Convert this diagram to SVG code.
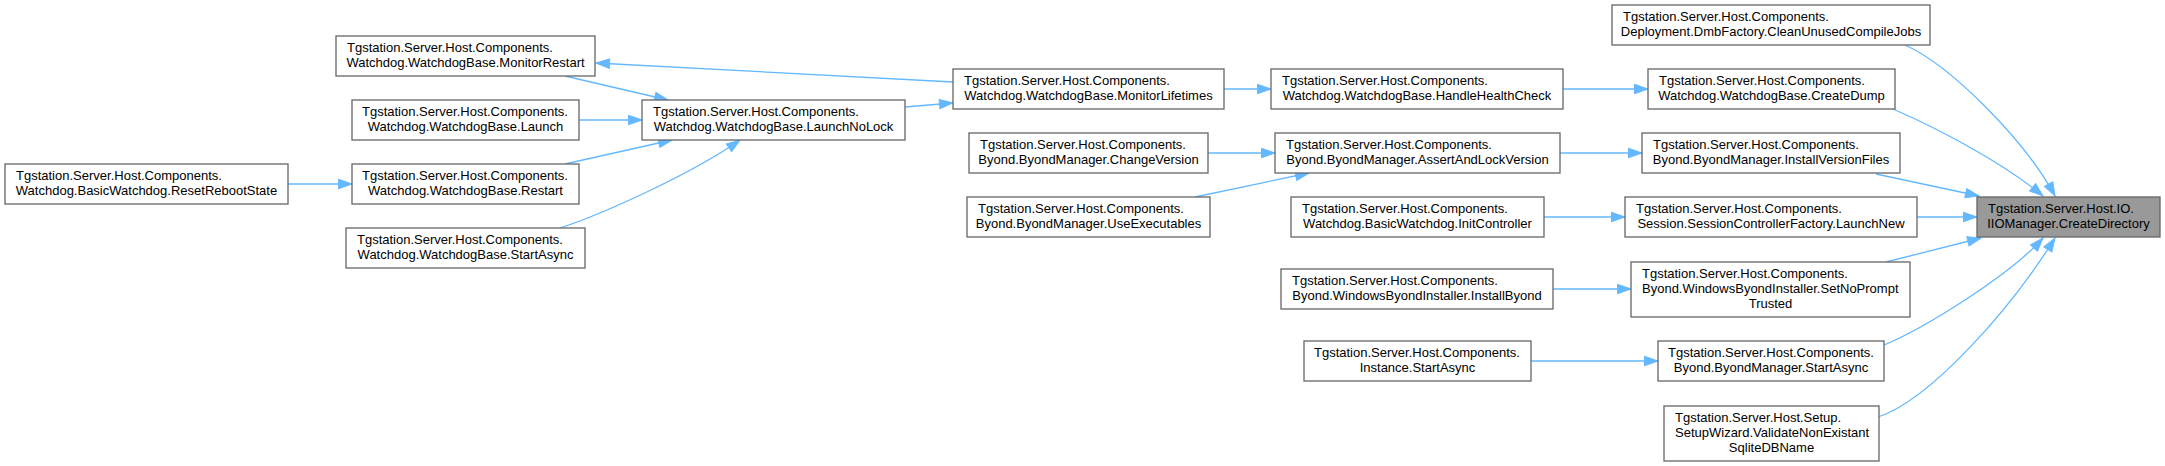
<svg xmlns="http://www.w3.org/2000/svg" width="2165" height="466" viewBox="0 0 2165 466">
<style>
.n rect{fill:#ffffff;stroke:#666666;stroke-width:1.3}
.n.hl rect{fill:#999999}
.n text{font-family:"Liberation Sans",Arial,Helvetica,sans-serif;font-size:13px;fill:#000000}
.n text.c{text-anchor:middle}
.e path{fill:none;stroke:#63b8ff;stroke-width:1.3;marker-end:url(#ah)}
</style>
<defs>
<marker id="ah" markerUnits="userSpaceOnUse" markerWidth="16" markerHeight="12" refX="13.5" refY="4.7" orient="auto" overflow="visible">
<path d="M0,0 L13.5,4.7 L0,9.4 z" fill="#63b8ff" stroke="#63b8ff" stroke-width="1"/>
</marker>
</defs>
<rect width="2165" height="466" fill="#ffffff"/>
<g id="edges" class="e">
<path d="M1905,45 C1950,65 2025,140 2055,196"/>
<path d="M1893,109 C1930,125 2000,160 2043,196"/>
<path d="M1876,174 L1979,196"/>
<path d="M1917,217 L1977,217"/>
<path d="M1886,262 L1981,238"/>
<path d="M1884,345 C1925,328 2010,275 2043,238"/>
<path d="M1878,417 C1930,400 2010,310 2055,238"/>
<path d="M1563,89 L1648,89"/>
<path d="M1560,153 L1642,153"/>
<path d="M1544,217 L1625,217"/>
<path d="M1553,289 L1631,289"/>
<path d="M1531,361 L1658,361"/>
<path d="M1224,89 L1271,89"/>
<path d="M1208,153 L1275,153"/>
<path d="M1195,197 L1309,173"/>
<path d="M905,107 L953,103"/>
<path d="M953,82 L596,63"/>
<path d="M565,76 L668,100"/>
<path d="M579,120 L642,120"/>
<path d="M565,164 L672,140"/>
<path d="M560,228 C600,215 690,175 740,140"/>
<path d="M288,184 L352,184"/>
</g>
<g id="n_ResetRebootState" class="n"><rect x="5" y="164" width="283" height="40"/><text x="16" y="180">Tgstation.Server.Host.Components.</text><text class="c" x="146.5" y="195">Watchdog.BasicWatchdog.ResetRebootState</text></g>
<g id="n_MonitorRestart" class="n"><rect x="336" y="36" width="259" height="40"/><text x="347" y="52">Tgstation.Server.Host.Components.</text><text class="c" x="465.5" y="67">Watchdog.WatchdogBase.MonitorRestart</text></g>
<g id="n_Launch" class="n"><rect x="352" y="100" width="227" height="40"/><text x="362" y="116">Tgstation.Server.Host.Components.</text><text class="c" x="465.5" y="131">Watchdog.WatchdogBase.Launch</text></g>
<g id="n_Restart" class="n"><rect x="352" y="164" width="227" height="40"/><text x="362" y="180">Tgstation.Server.Host.Components.</text><text class="c" x="465.5" y="195">Watchdog.WatchdogBase.Restart</text></g>
<g id="n_WatchdogStartAsync" class="n"><rect x="346" y="228" width="239" height="40"/><text x="357" y="244">Tgstation.Server.Host.Components.</text><text class="c" x="465.5" y="259">Watchdog.WatchdogBase.StartAsync</text></g>
<g id="n_LaunchNoLock" class="n"><rect x="642" y="100" width="263" height="40"/><text x="653" y="116">Tgstation.Server.Host.Components.</text><text class="c" x="773.5" y="131">Watchdog.WatchdogBase.LaunchNoLock</text></g>
<g id="n_MonitorLifetimes" class="n"><rect x="953" y="69" width="271" height="40"/><text x="964" y="85">Tgstation.Server.Host.Components.</text><text class="c" x="1088.5" y="100">Watchdog.WatchdogBase.MonitorLifetimes</text></g>
<g id="n_ChangeVersion" class="n"><rect x="969" y="133" width="239" height="40"/><text x="980" y="149">Tgstation.Server.Host.Components.</text><text class="c" x="1088.5" y="164">Byond.ByondManager.ChangeVersion</text></g>
<g id="n_UseExecutables" class="n"><rect x="967" y="197" width="243" height="40"/><text x="978" y="213">Tgstation.Server.Host.Components.</text><text class="c" x="1088.5" y="228">Byond.ByondManager.UseExecutables</text></g>
<g id="n_HandleHealthCheck" class="n"><rect x="1271" y="69" width="292" height="40"/><text x="1282" y="85">Tgstation.Server.Host.Components.</text><text class="c" x="1417" y="100">Watchdog.WatchdogBase.HandleHealthCheck</text></g>
<g id="n_AssertAndLockVersion" class="n"><rect x="1275" y="133" width="285" height="40"/><text x="1286" y="149">Tgstation.Server.Host.Components.</text><text class="c" x="1417.5" y="164">Byond.ByondManager.AssertAndLockVersion</text></g>
<g id="n_InitController" class="n"><rect x="1291" y="197" width="253" height="40"/><text x="1302" y="213">Tgstation.Server.Host.Components.</text><text class="c" x="1417.5" y="228">Watchdog.BasicWatchdog.InitController</text></g>
<g id="n_InstallByond" class="n"><rect x="1281" y="269" width="272" height="40"/><text x="1292" y="285">Tgstation.Server.Host.Components.</text><text class="c" x="1417" y="300">Byond.WindowsByondInstaller.InstallByond</text></g>
<g id="n_InstanceStartAsync" class="n"><rect x="1304" y="341" width="227" height="40"/><text x="1314" y="357">Tgstation.Server.Host.Components.</text><text class="c" x="1417.5" y="372">Instance.StartAsync</text></g>
<g id="n_CleanUnusedCompileJobs" class="n"><rect x="1612" y="5" width="318" height="40"/><text x="1623" y="21">Tgstation.Server.Host.Components.</text><text class="c" x="1771" y="36">Deployment.DmbFactory.CleanUnusedCompileJobs</text></g>
<g id="n_CreateDump" class="n"><rect x="1648" y="69" width="247" height="40"/><text x="1659" y="85">Tgstation.Server.Host.Components.</text><text class="c" x="1771.5" y="100">Watchdog.WatchdogBase.CreateDump</text></g>
<g id="n_InstallVersionFiles" class="n"><rect x="1642" y="133" width="258" height="40"/><text x="1653" y="149">Tgstation.Server.Host.Components.</text><text class="c" x="1771" y="164">Byond.ByondManager.InstallVersionFiles</text></g>
<g id="n_LaunchNew" class="n"><rect x="1625" y="197" width="292" height="40"/><text x="1636" y="213">Tgstation.Server.Host.Components.</text><text class="c" x="1771" y="228">Session.SessionControllerFactory.LaunchNew</text></g>
<g id="n_SetNoPromptTrusted" class="n"><rect x="1631" y="262" width="279" height="55"/><text x="1642" y="278">Tgstation.Server.Host.Components.</text><text x="1642" y="293">Byond.WindowsByondInstaller.SetNoPrompt</text><text class="c" x="1770.5" y="308">Trusted</text></g>
<g id="n_ByondStartAsync" class="n"><rect x="1658" y="341" width="226" height="40"/><text x="1668" y="357">Tgstation.Server.Host.Components.</text><text class="c" x="1771" y="372">Byond.ByondManager.StartAsync</text></g>
<g id="n_ValidateNonExistantSqliteDBName" class="n"><rect x="1664" y="406" width="215" height="55"/><text x="1675" y="422">Tgstation.Server.Host.Setup.</text><text x="1675" y="437">SetupWizard.ValidateNonExistant</text><text class="c" x="1771.5" y="452">SqliteDBName</text></g>
<g id="n_CreateDirectory" class="n hl"><rect x="1977" y="197" width="183" height="40"/><text x="1988" y="213">Tgstation.Server.Host.IO.</text><text class="c" x="2068.5" y="228">IIOManager.CreateDirectory</text></g>
</svg>
